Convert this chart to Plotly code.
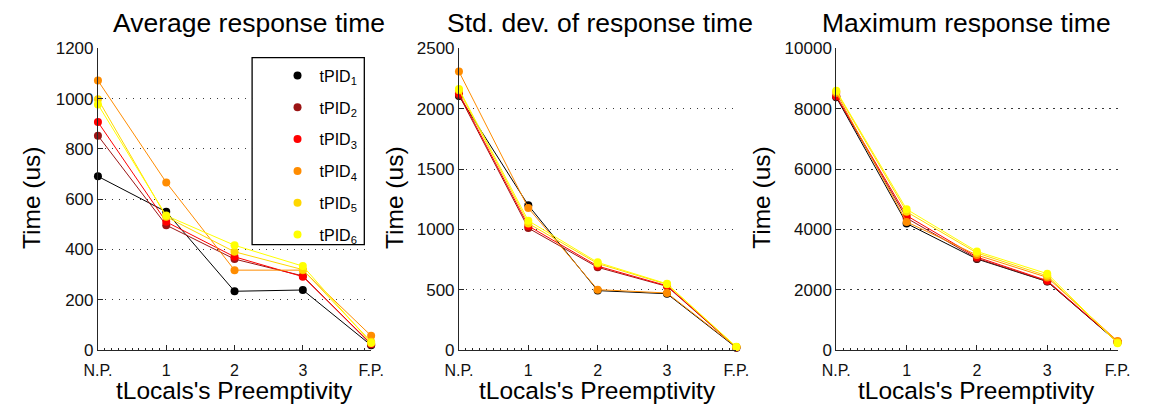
import plotly.graph_objects as go

# Preemptivity levels of tLocals (x positions 0..4)
levels = ["N.P.", "1", "2", "3", "F.P."]
series_names = ["tPID<sub>1</sub>", "tPID<sub>2</sub>", "tPID<sub>3</sub>",
                "tPID<sub>4</sub>", "tPID<sub>5</sub>", "tPID<sub>6</sub>"]
series_colors = ["#000000", "#9B1414", "#FF0000", "#FF8C00", "#FFD700", "#FFFF00"]

# Average response time (us)
avg_t1 = [691, 550, 234, 239, 19]
avg_t2 = [853, 497, 362, 295, 22]
avg_t3 = [907, 510, 371, 292, 25]
avg_t4 = [1072, 667, 318, 318, 57]
avg_t5 = [998, 530, 391, 320, 33]
avg_t6 = [977, 535, 417, 334, 28]

# Standard deviation of response time (us)
std_t1 = [2106, 1200, 493, 467, 20]
std_t2 = [2114, 1011, 686, 528, 22]
std_t3 = [2127, 1029, 696, 533, 24]
std_t4 = [2308, 1177, 501, 473, 26]
std_t5 = [2153, 1050, 717, 545, 25]
std_t6 = [2164, 1072, 727, 549, 27]

# Maximum response time (us)
max_t1 = [8380, 4196, 3020, 2270, 260]
max_t2 = [8400, 4375, 3040, 2280, 270]
max_t3 = [8420, 4458, 3082, 2303, 275]
max_t4 = [8520, 4249, 3150, 2410, 300]
max_t5 = [8570, 4584, 3220, 2460, 250]
max_t6 = [8600, 4669, 3270, 2533, 230]

panels = [
    ("Average response time", [avg_t1, avg_t2, avg_t3, avg_t4, avg_t5, avg_t6], 1200, 200),
    ("Std. dev. of response time", [std_t1, std_t2, std_t3, std_t4, std_t5, std_t6], 2500, 500),
    ("Maximum response time", [max_t1, max_t2, max_t3, max_t4, max_t5, max_t6], 10000, 2000),
]

W, H = 1154, 414
FONT = "Liberation Sans, Arial, sans-serif"
x_domains = [(85 / W, 365 / W), (455 / W, 739.3 / W), (841.7 / W, 1130 / W)]
y_domain = (1 - 357.5 / H, 1 - 41.3 / H)
title_x = [240, 600, 975]
ylabel_x = [17, 389, 765]

xpos = list(range(len(levels)))
fig = go.Figure()
layout = {}
annotations = []

for p, (title, data, ymax, dy) in enumerate(panels):
    xa = "x" if p == 0 else f"x{p + 1}"
    ya = "y" if p == 0 else f"y{p + 1}"
    for k, vals in enumerate(data):
        # connecting line
        fig.add_trace(go.Scatter(
            x=xpos, y=vals, xaxis=xa, yaxis=ya, mode="lines",
            line=dict(color=series_colors[k], width=1),
            showlegend=False, hoverinfo="skip", cliponaxis=False))
        # point markers (these carry the legend entries)
        fig.add_trace(go.Scatter(
            x=xpos, y=vals, xaxis=xa, yaxis=ya, mode="markers",
            marker=dict(color=series_colors[k], size=8, line=dict(width=0)),
            name=series_names[k], legendgroup=f"g{k}",
            showlegend=(p == 0), cliponaxis=False))

    xkey = "xaxis" if p == 0 else f"xaxis{p + 1}"
    ykey = "yaxis" if p == 0 else f"yaxis{p + 1}"
    layout[xkey] = dict(
        domain=list(x_domains[p]), anchor=ya, range=[0, 4],
        tickmode="array", tickvals=xpos, ticktext=levels,
        ticks="inside", ticklen=5, tickcolor="#262626", ticklabelstandoff=6,
        minor=dict(ticks="inside", ticklen=2, dtick=0.1, tickcolor="#262626", showgrid=False),
        showline=True, linecolor="#262626", linewidth=1,
        showgrid=False, zeroline=False,
        tickfont=dict(family=FONT, size=16, color="#111111"))
    layout[ykey] = dict(
        domain=list(y_domain), anchor=xa, range=[0, ymax],
        tickmode="linear", tick0=0, dtick=dy, tickformat="d",
        ticks="inside", ticklen=5, tickcolor="#262626",
        showline=True, linecolor="#262626", linewidth=1,
        showgrid=True, gridcolor="#3a3a3a", gridwidth=1, griddash="1.5px,5.5px",
        zeroline=False,
        tickfont=dict(family=FONT, size=17, color="#111111"))

    cx = (x_domains[p][0] + x_domains[p][1]) / 2
    annotations.append(dict(
        text=title, xref="paper", yref="paper", x=title_x[p] / W, y=1 - 15 / H,
        xanchor="center", yanchor="middle", showarrow=False,
        font=dict(family=FONT, size=26.5, color="#000000")))
    annotations.append(dict(
        text="tLocals's Preemptivity", xref="paper", yref="paper", x=cx, y=1 - 400 / H,
        xanchor="center", yanchor="middle", showarrow=False,
        font=dict(family=FONT, size=24.5, color="#000000")))
    annotations.append(dict(
        text="Time (us)", xref="paper", yref="paper", x=ylabel_x[p] / W, y=1 - 197.5 / H,
        xanchor="center", yanchor="middle", showarrow=False, textangle=-90,
        font=dict(family=FONT, size=24.5, color="#000000")))

# Legend frame (white fill hides gridlines behind it)
legend_box = dict(type="rect", xref="paper", yref="paper",
                  x0=243 / W, x1=358 / W, y0=1 - 247 / H, y1=1 - 51 / H,
                  line=dict(color="#000000", width=1.3), fillcolor="white", layer="above")

fig.update_layout(
    **layout,
    annotations=annotations,
    shapes=[legend_box],
    width=W, height=H,
    margin=dict(l=0, r=0, t=0, b=0),
    paper_bgcolor="white", plot_bgcolor="white",
    legend=dict(
        x=267 / W, y=1 - 52 / H, xanchor="left", yanchor="top",
        bgcolor="rgba(0,0,0,0)", borderwidth=0,
        font=dict(family=FONT, size=16, color="#000000"),
        tracegroupgap=8, itemwidth=34),
)

fig.write_html("out.html")
